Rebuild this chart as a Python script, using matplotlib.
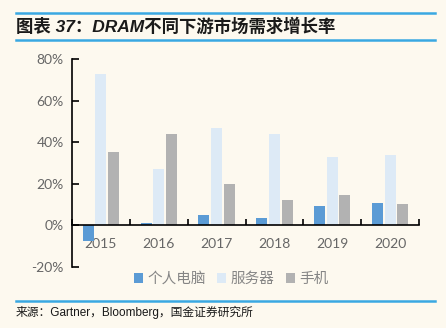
import numpy as np
import matplotlib
matplotlib.use('Agg')
import matplotlib.pyplot as plt
from matplotlib.lines import Line2D

years = ['2015', '2016', '2017', '2018', '2019', '2020']
pc = [-7.5, 1.0, 5.2, 3.4, 9.2, 11.0]
server = [73.0, 27.2, 47.0, 44.0, 33.0, 34.0]
phone = [35.3, 44.0, 20.1, 12.0, 14.4, 10.4]
series_names = ['个人电脑', '服务器', '手机']

plt.rcParams['font.family'] = ['Lato', 'Noto Sans CJK SC', 'DejaVu Sans']

bg = '#FDF9EF'
line_blue = '#3AA8E2'
colors = ['#5B9BD5', '#DDEAF6', '#B2B2B2']

fig = plt.figure(figsize=(4.46, 3.28), dpi=100, facecolor=bg)
ax = fig.add_axes([0.1614, 0.186, 0.7781, 0.634])
ax.set_facecolor(bg)

x = np.arange(len(years))
w = 0.19
off = 0.22
for i, (vals, name) in enumerate(zip([pc, server, phone], series_names)):
    ax.bar(x + (i - 1) * off, vals, width=w, color=colors[i], label=name,
           edgecolor='none', zorder=2)

ax.set_xlim(-0.5, len(years) - 0.5)
ax.set_ylim(-20, 80)
ax.set_yticks(np.arange(-20, 81, 20))
ax.set_yticklabels([f'{v}%' for v in range(-20, 81, 20)])

ax.spines['top'].set_visible(False)
ax.spines['right'].set_visible(False)
ax.spines['bottom'].set_position(('data', 0))
ax.spines['bottom'].set_linewidth(1.2)
ax.spines['left'].set_linewidth(1.2)
ax.spines['bottom'].set_zorder(3)

ax.set_xticks(x)
ax.set_xticklabels(years)
ax.set_xticks(np.arange(-0.5, len(years), 1.0), minor=True)
ax.tick_params(axis='x', which='major', length=0, pad=9, labelsize=10,
               labelcolor='#666666')
ax.tick_params(axis='x', which='minor', direction='in', length=4, width=1.2)
ax.tick_params(axis='y', direction='in', length=5, width=1.2, labelsize=10,
               labelcolor='#666666', pad=6)

leg = fig.legend(loc='center', bbox_to_anchor=(0.518, 0.149), ncol=3,
                 frameon=False, fontsize=10.5, handlelength=0.6,
                 handleheight=0.6, handletextpad=0.3, columnspacing=0.8)
for t in leg.get_texts():
    t.set_color('#858585')

for yy in [0.960, 0.878, 0.082]:
    fig.add_artist(Line2D([0.036, 0.975], [yy, yy], color=line_blue, lw=1.8,
                          transform=fig.transFigure))

fig.text(0.036, 0.921, '图表 37：DRAM不同下游市场需求增长率', fontsize=12.5,
         fontweight='bold', fontstyle='italic', va='center', ha='left',
         color='#1A1A1A', family=['Liberation Sans', 'Noto Sans CJK SC'])
fig.text(0.036, 0.049, '来源：Gartner，Bloomberg，国金证券研究所', fontsize=8.5,
         va='center', ha='left', color='#1A1A1A',
         family=['Liberation Sans', 'Noto Sans CJK SC'])

fig.savefig('out.png', dpi=100, facecolor=bg)
